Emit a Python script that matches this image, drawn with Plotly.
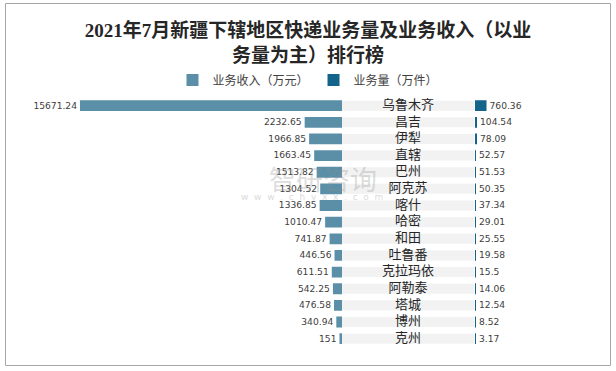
import plotly.graph_objects as go

regions = ["乌鲁木齐", "昌吉", "伊犁", "直辖", "巴州", "阿克苏", "喀什", "哈密",
           "和田", "吐鲁番", "克拉玛依", "阿勒泰", "塔城", "博州", "克州"]
revenue = [15671.24, 2232.65, 1966.85, 1663.45, 1513.82, 1304.52, 1336.85, 1010.47,
           741.87, 446.56, 611.51, 542.25, 476.58, 340.94, 151]
volume = [760.36, 104.54, 78.09, 52.57, 51.53, 50.35, 37.34, 29.01,
          25.55, 19.58, 15.5, 14.06, 12.54, 8.52, 3.17]
band = [1] * len(regions)
mid = [0.5] * len(regions)

W, H = 616, 371
num_font = dict(family="DejaVu Sans", size=11, color="#404040")

fig = go.Figure()
fig.add_trace(go.Bar(
    y=regions, x=revenue, orientation="h", name="业务收入（万元）",
    marker=dict(color="#5b8fa8", line=dict(width=0)), width=0.65,
    text=[str(v) for v in revenue], textposition="outside", textfont=num_font,
    cliponaxis=False, xaxis="x", yaxis="y",
))
fig.add_trace(go.Bar(
    y=regions, x=band, orientation="h", showlegend=False,
    marker=dict(color="#f2f2f2", line=dict(width=0)), width=0.6,
    xaxis="x2", yaxis="y", hoverinfo="skip",
))
fig.add_trace(go.Scatter(
    y=regions, x=mid, mode="text", text=regions, showlegend=False,
    textfont=dict(family="Noto Sans CJK SC", size=13, color="#262626"),
    textposition="middle center", cliponaxis=False,
    xaxis="x2", yaxis="y", hoverinfo="skip",
))
fig.add_trace(go.Bar(
    y=regions, x=volume, orientation="h", name="业务量（万件）",
    marker=dict(color="#13638a", line=dict(width=0)), width=0.65,
    text=[str(v) for v in volume], textposition="outside", textfont=num_font,
    cliponaxis=False, xaxis="x3", yaxis="y",
))

ydom = [(H - 351.6) / H, (H - 92.7) / H]
fig.update_layout(
    width=W, height=H,
    margin=dict(l=0, r=0, t=0, b=0, autoexpand=False),
    paper_bgcolor="white", plot_bgcolor="white",
    barmode="overlay",
    showlegend=True,
    title=dict(
        text="2021年7月新疆下辖地区快递业务量及业务收入（以业<br>务量为主）排行榜",
        x=0.5, xanchor="center", y=(H - 37) / H, yanchor="middle",
        font=dict(family="Liberation Serif, Noto Sans CJK SC", size=19, color="#262626", weight="bold"),
    ),
    legend=dict(
        orientation="h", x=0.5, xanchor="center", y=(H - 80) / H, yanchor="middle",
        font=dict(family="Noto Sans CJK SC", size=12, color="#404040"),
        itemwidth=30, traceorder="normal", bgcolor="rgba(0,0,0,0)",
    ),
    xaxis=dict(domain=[0, 342 / W], range=[20456, 0], visible=False, fixedrange=True),
    xaxis2=dict(domain=[342 / W, 474 / W], range=[0, 1], visible=False, anchor="y"),
    xaxis3=dict(domain=[475 / W, 1], range=[0, 9320], visible=False, anchor="y"),
    yaxis=dict(domain=ydom, autorange="reversed", visible=False, type="category"),
    shapes=[dict(type="rect", xref="paper", yref="paper",
                 x0=5.5 / W, x1=610.5 / W, y0=(H - 365.5) / H, y1=(H - 3.5) / H,
                 line=dict(color="#a6a6a6", width=1), fillcolor="rgba(0,0,0,0)", layer="below")],
    annotations=[
        dict(text="智研咨询", xref="paper", yref="paper", x=323 / W, y=(H - 178) / H,
             showarrow=False, font=dict(family="Noto Sans CJK SC", size=27, color="rgba(140,140,140,0.3)")),
        dict(text="w  w  w  .  c  h  y  x  x  .  c  o  m", xref="paper", yref="paper", x=312 / W, y=(H - 197) / H,
             showarrow=False, font=dict(family="DejaVu Sans", size=9, color="rgba(140,140,140,0.35)")),
    ],
)

fig.write_html("out.html", config={"displayModeBar": False},
               post_script="document.body.style.margin='0';document.body.style.overflow='hidden';")
